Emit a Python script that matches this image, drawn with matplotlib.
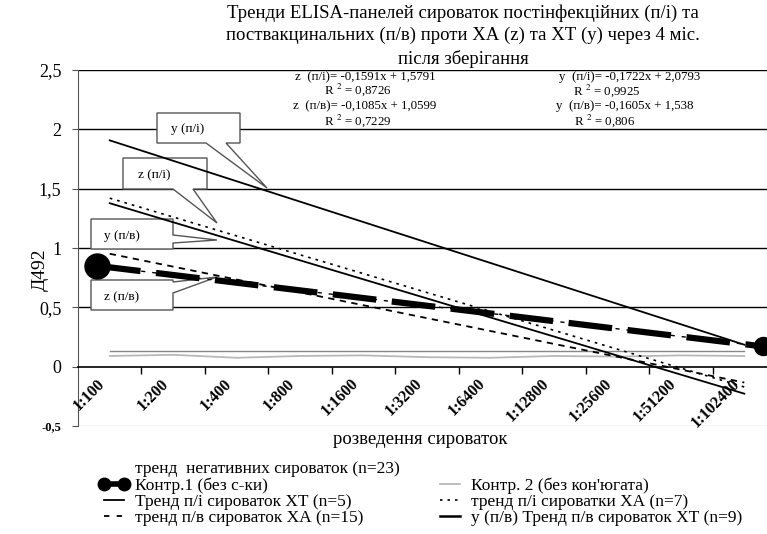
import matplotlib
matplotlib.use('Agg')
import matplotlib.pyplot as plt
import matplotlib.transforms as mtransforms
from matplotlib.lines import Line2D
from matplotlib.patches import Polygon

plt.rcParams['font.family'] = ['Liberation Serif', 'DejaVu Serif']
plt.rcParams['mathtext.fontset'] = 'stix'

# Categories (serum dilutions)
dilutions = ['1:100', '1:200', '1:400', '1:800', '1:1600', '1:3200',
             '1:6400', '1:12800', '1:25600', '1:51200', '1:102400']
x_cat = list(range(1, len(dilutions) + 1))

# Trend lines as printed on the chart: slope, intercept, R^2
y_pi_slope, y_pi_icpt, y_pi_r2 = -0.1722, 2.0793, 0.9925   # XT, post-infection
y_pv_slope, y_pv_icpt, y_pv_r2 = -0.1605, 1.538, 0.806     # XT, post-vaccination
z_pi_slope, z_pi_icpt, z_pi_r2 = -0.1591, 1.5791, 0.8726   # XA, post-infection
z_pv_slope, z_pv_icpt, z_pv_r2 = -0.1085, 1.0599, 0.7229   # XA, post-vaccination

# Controls
kontr1_x = [0.8, 11.3]
kontr1_y = [0.85, 0.17]
kontr2_y = [0.09, 0.10, 0.075, 0.09, 0.095, 0.08, 0.075, 0.09, 0.085, 0.095, 0.09]
neg_trend_y = [0.13, 0.13, 0.13, 0.13, 0.13, 0.13, 0.13, 0.13, 0.13, 0.13, 0.13]

W, H = 767, 534


def px(x, y):
    # reference pixel -> figure fraction
    return (x / W, 1 - y / H)


def comma(v):
    return str(v).replace('.', ',')


def trend(slope, icpt):
    xs = [x_cat[0], x_cat[-1]]
    return xs, [slope * x + icpt for x in xs]


fig = plt.figure(figsize=(W / 100, H / 100), dpi=100)
ax = fig.add_axes([78 / W, (H - 426) / H, (776 - 78) / W, (426 - 70) / H])
ax.set_xlim(0.5, 11.5)
ax.set_ylim(-0.5, 2.5)

# grid
for g in [0.5, 1, 1.5, 2, 2.5]:
    ax.axhline(g, color='black', lw=1.0, zorder=0)
ax.axhline(-0.5, color='#cccccc', lw=1.0, zorder=0)

ax.spines['top'].set_visible(False)
ax.spines['right'].set_visible(False)
ax.spines['left'].set_color('#555555')
ax.spines['bottom'].set_position(('data', 0))
ax.spines['bottom'].set_linewidth(1.2)

ax.set_yticks([-0.5, 0, 0.5, 1, 1.5, 2, 2.5])
ax.set_yticklabels(['-0,5', '0', '0,5', '1', '1,5', '2', '2,5'], fontsize=13)
lab = ax.get_yticklabels()[0]
lab.set_fontsize(9)
lab.set_fontweight('bold')
ax.tick_params(axis='y', direction='out', length=4, pad=8, color='#555555')

# category labels, rotated, sitting just left-below each category
ax.set_xticks([c + 0.5 for c in x_cat[:-1]])
ax.set_xticklabels([])
ax.tick_params(axis='x', direction='out', length=5, width=1)
shift = mtransforms.ScaledTranslation(-0.13, -0.09, fig.dpi_scale_trans)
for c, name in zip(x_cat, dilutions):
    ax.text(c, 0, name, transform=ax.transData + shift, rotation=45,
            rotation_mode='anchor', ha='right', va='top', fontsize=11.5,
            fontweight='bold', clip_on=False)

# negatives trend and control 2
ax.plot(x_cat, neg_trend_y, color='#888888', lw=1.0, zorder=2)
ax.plot(x_cat, kontr2_y, color='#b8b8b8', lw=1.3, zorder=2)

# trend lines
xs, ys = trend(y_pi_slope, y_pi_icpt)
ax.plot(xs, ys, color='black', lw=1.3, zorder=3)
xs, ys = trend(y_pv_slope, y_pv_icpt)
ax.plot(xs, ys, color='black', lw=1.3, zorder=3)
xs, ys = trend(z_pi_slope, z_pi_icpt)
ax.plot(xs, ys, color='black', lw=1.2, ls=(0, (1.6, 3)), zorder=3)
xs, ys = trend(z_pv_slope, z_pv_icpt)
ax.plot(xs, ys, color='black', lw=1.3, ls=(0, (3.5, 3)), zorder=3)

# control 1: thick dashed with big end markers
ax.plot(kontr1_x, kontr1_y, color='black', lw=1.0, ls=(0, (3, 5)), zorder=3,
        clip_on=False)
ax.plot(kontr1_x, kontr1_y, color='black', lw=4.5, ls=(0, (7, 2.5)), zorder=4,
        solid_capstyle='butt', dash_capstyle='butt', clip_on=False)
ax.plot(kontr1_x[:1], kontr1_y[:1], 'o', color='black', ms=18, zorder=5, clip_on=False)
ax.plot(kontr1_x[1:], kontr1_y[1:], 'o', color='black', ms=13, zorder=5, clip_on=False)

# callout boxes
callouts = [
    ('y (п/і)', [(157, 113), (240, 113), (240, 143), (226, 143), (267, 188),
                 (206, 143), (157, 143)], (188, 129)),
    ('z (п/і)', [(123, 158), (207, 158), (207, 189), (193, 189), (217, 223),
                 (173, 189), (123, 189)], (154, 175)),
    ('y (п/в)', [(91, 219), (173, 219), (173, 235), (217, 240), (173, 243),
                 (173, 249), (91, 249)], (122, 236)),
    ('z (п/в)', [(91, 280), (173, 280), (173, 282), (217, 277), (173, 293),
                 (173, 310), (91, 310)], (122, 297)),
]
for text, pts, tpos in callouts:
    poly = Polygon([px(*p) for p in pts], closed=True, facecolor='white',
                   edgecolor='#555555', lw=1.0, transform=fig.transFigure,
                   zorder=1, clip_on=False)
    ax.add_patch(poly)
    fig.text(*px(*tpos), text, fontsize=9.5, ha='center', va='center')

# equations
eqs = [
    ('z  (п/і)= %sx + %s' % (comma(z_pi_slope), comma(z_pi_icpt)), (365, 77)),
    ('R $^{2}$ = %s' % comma(z_pi_r2), (358, 90)),
    ('z  (п/в)= %sx + %s' % (comma(z_pv_slope), comma(z_pv_icpt)), (365, 106)),
    ('R $^{2}$ = %s' % comma(z_pv_r2), (358, 121)),
    ('y  (п/і)= %sx + %s' % (comma(y_pi_slope), comma(y_pi_icpt)), (630, 77)),
    ('R $^{2}$ = %s' % comma(y_pi_r2), (607, 91)),
    ('y  (п/в)= %sx + %s' % (comma(y_pv_slope), comma(y_pv_icpt)), (625, 106)),
    ('R $^{2}$ = %s' % comma(y_pv_r2), (605, 121)),
]
for t, p in eqs:
    fig.text(*px(*p), t, fontsize=9.3, ha='center', va='center')

fig.text(*px(463, 36),
         'Тренди ELISA-панелей сироваток постінфекційних (п/і) та\n'
         'поствакцинальних (п/в) проти ХА (z) та ХТ (y) через 4 міс.\n'
         'після зберігання', fontsize=13.5, ha='center', va='center',
         linespacing=1.38)
fig.text(*px(40, 270), 'Д492', fontsize=14, rotation=90, ha='center', va='center')
fig.text(*px(420, 440), 'розведення сироваток', fontsize=13.5, ha='center',
         va='center')

# legend
handles = [
    Line2D([], [], color='none'),
    Line2D([], [], color='black', lw=4, marker='o', ms=9),
    Line2D([], [], color='black', lw=1.3),
    Line2D([], [], color='black', lw=1.3, ls=(0, (3, 4))),
    Line2D([], [], color='none'),
    Line2D([], [], color='#b8b8b8', lw=1.3),
    Line2D([], [], color='black', lw=1.2, ls=(0, (1.5, 3))),
    Line2D([], [], color='black', lw=1.8),
]
labels = [
    'тренд  негативних сироваток (n=23)',
    'Контр.1 (без с-ки)',
    'Тренд п/і сироваток ХТ (n=5)',
    'тренд п/в сироваток ХА (n=15)',
    ' ',
    "Контр. 2 (без кон'югата)",
    'тренд п/і сироватки ХА (n=7)',
    'y (п/в) Тренд п/в сироваток ХТ (n=9)',
]
fig.legend(handles, labels, ncol=2, loc='upper left',
           bbox_to_anchor=px(99, 461), frameon=False, fontsize=12.5,
           numpoints=2, handlelength=1.75, handletextpad=0.35,
           labelspacing=0.0, columnspacing=2.0, borderpad=0, borderaxespad=0)

fig.savefig('out.png', dpi=100)
